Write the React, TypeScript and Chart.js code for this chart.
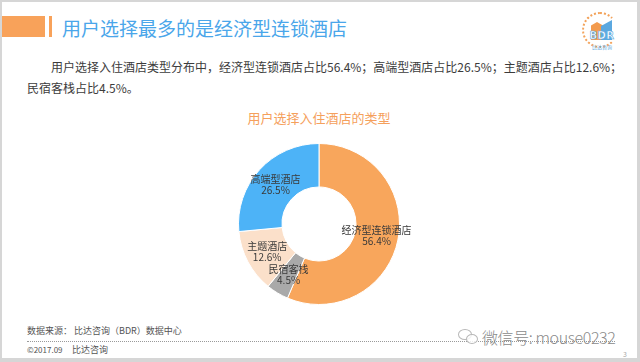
import React, { useEffect, useRef } from "react";
import { Chart, registerables } from "chart.js";

Chart.register(...registerables);

const categories: string[] = ["经济型连锁酒店", "民宿客栈", "主题酒店", "高端型酒店"];
const shares: number[] = [56.4, 4.5, 12.6, 26.5];
const sliceColors: string[] = ["#F8A65C", "#A9A9A9", "#FBE0CA", "#4DB3F7"];

const pageTitle = "用户选择最多的是经济型连锁酒店";
const descLine1 = "用户选择入住酒店类型分布中，经济型连锁酒店占比56.4%；高端型酒店占比26.5%；主题酒店占比12.6%；";
const descLine2 = "民宿客栈占比4.5%。";
const chartTitle = "用户选择入住酒店的类型";
const sourceText = "数据来源：  比达咨询（BDR）数据中心";
const copyDate = "©2017.09";
const copyName = "比达咨询";
const watermark = "微信号: mouse0232";

const FONT = "'Noto Sans CJK SC', 'Noto Sans', sans-serif";

const sliceLabelPlugin = {
  id: "sliceLabels",
  afterDatasetsDraw(chart: any) {
    const ctx = chart.ctx;
    const meta = chart.getDatasetMeta(0);
    ctx.save();
    ctx.font = `10px ${FONT}`;
    ctx.fillStyle = "#3a3a3a";
    ctx.textAlign = "center";
    ctx.textBaseline = "middle";
    meta.data.forEach((arc: any, i: number) => {
      const p = arc.tooltipPosition();
      const label = chart.data.labels[i];
      const val = chart.data.datasets[0].data[i];
      ctx.fillText(label, p.x, p.y - 5.5);
      ctx.fillText(val.toFixed(1) + "%", p.x, p.y + 5.5);
    });
    ctx.restore();
  },
};

function Donut() {
  const ref = useRef<HTMLCanvasElement | null>(null);
  useEffect(() => {
    if (!ref.current) return;
    const chart = new Chart(ref.current, {
      type: "doughnut",
      data: {
        labels: categories,
        datasets: [
          {
            data: shares,
            backgroundColor: sliceColors,
            borderColor: "#ffffff",
            borderWidth: 1,
            hoverOffset: 0,
          },
        ],
      },
      options: {
        responsive: false,
        animation: false,
        cutout: "46%",
        rotation: 0,
        layout: { padding: 19 },
        plugins: {
          legend: { display: false },
          tooltip: { enabled: false },
          title: { display: false },
        },
        events: [],
      },
      plugins: [sliceLabelPlugin],
    });
    return () => chart.destroy();
  }, []);
  return (
    <canvas
      ref={ref}
      width={200}
      height={200}
      style={{ position: "absolute", left: 219, top: 124, width: 200, height: 200 }}
    />
  );
}

export default function App() {
  useEffect(() => {
    document.body.style.margin = "0";
  }, []);
  const abs = (s: React.CSSProperties): React.CSSProperties => ({ position: "absolute", ...s });
  return (
    <div
      style={{
        position: "fixed",
        left: 0,
        top: 0,
        width: 640,
        height: 362,
        background: "#ffffff",
        overflow: "hidden",
        fontFamily: FONT,
      }}
    >
      {/* frame */}
      <div style={abs({ left: 0, top: 0, width: 640, height: 2, background: "#d6d6d6" })} />
      <div style={abs({ left: 0, top: 0, width: 2, height: 362, background: "#d6d6d6" })} />
      <div style={abs({ left: 0, top: 358, width: 640, height: 4, background: "#d6d6d6" })} />
      <div style={abs({ left: 637, top: 0, width: 3, height: 362, background: "#d6d6d6" })} />

      {/* header bars */}
      <div style={abs({ left: 2, top: 16, width: 43, height: 21, background: "#F8A25A" })} />
      <div style={abs({ left: 49, top: 16, width: 3, height: 21, background: "#F8A25A" })} />
      <div
        style={abs({
          left: 62,
          top: 15,
          fontSize: 19,
          lineHeight: "26px",
          color: "#4AA6EA",
          whiteSpace: "nowrap",
        })}
      >
        {pageTitle}
      </div>

      {/* logo */}
      <div
        style={abs({
          left: 582,
          top: 12,
          width: 36,
          height: 36,
          borderRadius: "50%",
          border: "2px dotted #F3A35B",
          borderRightColor: "transparent",
          borderTopColor: "#F3A35B",
          boxSizing: "border-box",
        })}
      />
      <div
        style={abs({
          left: 591,
          top: 22,
          width: 12,
          height: 18,
          background: "#F39B4E",
          clipPath: "polygon(0 20%, 50% 0, 100% 20%, 100% 100%, 0 100%)",
        })}
      />
      <div
        style={abs({
          left: 601,
          top: 20,
          width: 11,
          height: 20,
          background: "#5BA8E0",
          clipPath: "polygon(0 30%, 100% 0, 100% 100%, 0 100%)",
        })}
      />
      <div
        style={abs({
          left: 587,
          top: 30,
          width: 30,
          textAlign: "center",
          fontSize: 10,
          fontWeight: 700,
          color: "#ffffff",
          letterSpacing: 0.5,
          WebkitTextStroke: "0.6px #5BA8E0",
          fontFamily: "'DejaVu Sans', sans-serif",
        })}
      >
        BDR
      </div>
      <div
        style={abs({
          left: 585,
          top: 43,
          width: 34,
          textAlign: "center",
          fontSize: 5,
          color: "#5BA8E0",
        })}
      >
        比达咨询
      </div>

      {/* description */}
      <div
        style={abs({
          left: 27,
          top: 56,
          width: 600,
          fontSize: 12,
          lineHeight: "21px",
          color: "#3c3c3c",
          whiteSpace: "nowrap",
        })}
      >
        <div style={{ textIndent: 24 }}>{descLine1}</div>
        <div>{descLine2}</div>
      </div>

      {/* chart title */}
      <div
        style={abs({
          left: 219,
          top: 108,
          width: 200,
          textAlign: "center",
          fontSize: 13,
          lineHeight: "20px",
          color: "#F5A05C",
          whiteSpace: "nowrap",
        })}
      >
        {chartTitle}
      </div>

      <Donut />

      {/* footer */}
      <div style={abs({ left: 27, top: 324, fontSize: 9, lineHeight: "14px", color: "#555", whiteSpace: "nowrap" })}>
        {sourceText}
      </div>
      <div
        style={abs({
          left: 27,
          top: 341,
          width: 588,
          height: 0,
          borderTop: "1px dotted #9a9a9a",
        })}
      />
      <div style={abs({ left: 27, top: 343, fontSize: 8, lineHeight: "14px", color: "#555", whiteSpace: "nowrap" })}>
        {copyDate}
      </div>
      <div style={abs({ left: 72, top: 343, fontSize: 9, lineHeight: "14px", color: "#555", whiteSpace: "nowrap" })}>
        {copyName}
      </div>
      <div style={abs({ left: 623, top: 349, fontSize: 7, lineHeight: "10px", color: "#aaa" })}>3</div>

      {/* watermark */}
      <div
        style={abs({
          left: 458,
          top: 329,
          width: 14,
          height: 11,
          borderRadius: "50%",
          border: "1px solid #b8b8b8",
          boxSizing: "border-box",
        })}
      />
      <div
        style={abs({
          left: 466,
          top: 334,
          width: 12,
          height: 10,
          borderRadius: "50%",
          border: "1px solid #b8b8b8",
          background: "rgba(255,255,255,0.8)",
          boxSizing: "border-box",
        })}
      />
      <div
        style={abs({
          left: 482,
          top: 325,
          fontSize: 16,
          lineHeight: "24px",
          color: "#8a8a8a",
          letterSpacing: -0.4,
          whiteSpace: "nowrap",
          fontWeight: 300,
          fontFamily: "'Noto Sans CJK SC', 'DejaVu Sans', sans-serif",
        })}
      >
        {watermark}
      </div>
    </div>
  );
}
